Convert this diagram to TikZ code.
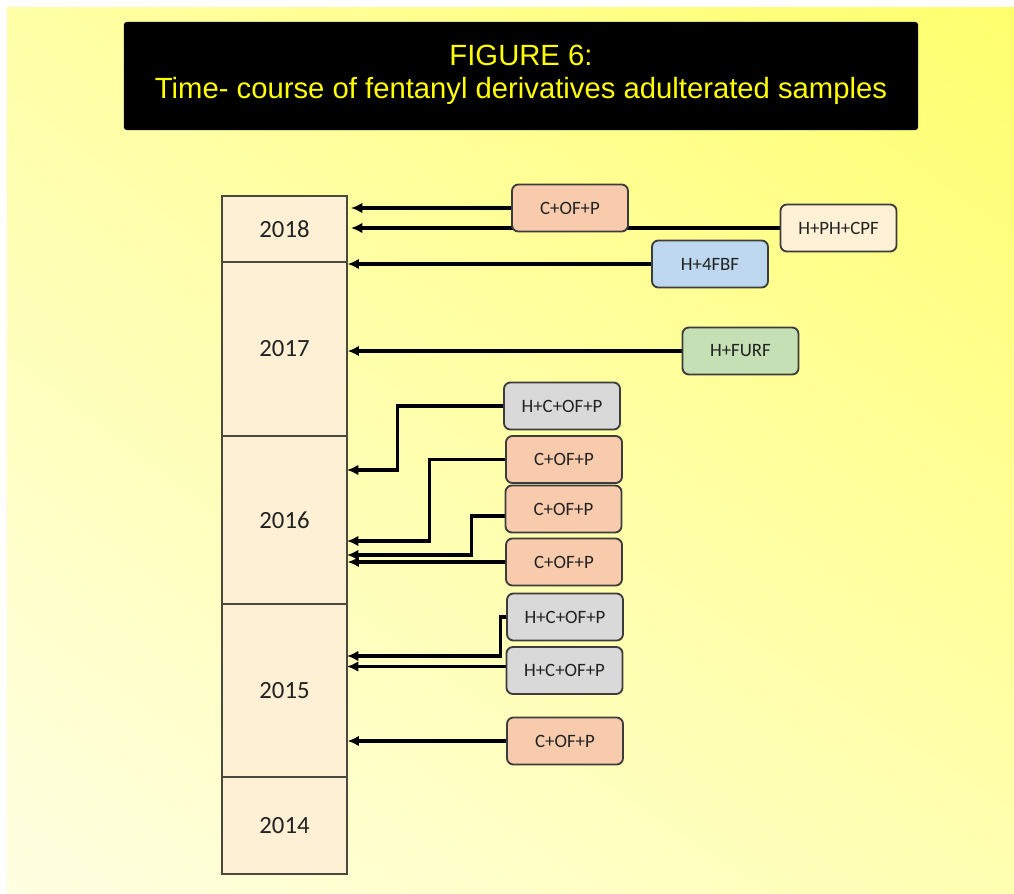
\documentclass[tikz,border=0pt]{standalone}
\usepackage{fontspec}
\setmainfont{Carlito}
\newfontfamily\arialfont{Liberation Sans}
\usetikzlibrary{arrows.meta,calc,shadings}
\definecolor{salmon}{HTML}{F8CBAD}
\definecolor{graybox}{HTML}{D9D9D9}
\definecolor{bluebox}{HTML}{BDD7EE}
\definecolor{greenbox}{HTML}{C5E0B4}
\definecolor{creambox}{HTML}{FEF1D6}
\definecolor{yearfill}{HTML}{FDF0D4}
\definecolor{yearline}{HTML}{4A4A3C}
\definecolor{boxline}{HTML}{3C3C3C}
\definecolor{txt}{HTML}{222222}
\definecolor{titleyellow}{HTML}{FFFF00}
\definecolor{bgUL}{HTML}{FFFFA6}
\definecolor{bgUR}{HTML}{FFFF6E}
\definecolor{bgLL}{HTML}{FFFFE2}
\definecolor{bgLR}{HTML}{FFFFB2}
\pgfdeclarelayer{bg}
\pgfdeclarelayer{connlayer}
\pgfsetlayers{bg,connlayer,main}
\begin{document}
\begin{tikzpicture}[x=0.025cm,y=-0.025cm,
  yearbox/.style={draw=yearline, line width=0.9pt, fill=yearfill, minimum width=3.125cm,
    inner sep=0pt, text=txt, font=\fontsize{17.6}{20}\selectfont},
  tag/.style={draw=boxline, line width=1.3pt, rounded corners=0.16cm, minimum width=2.9cm,
    minimum height=1.175cm, inner sep=0pt, text=txt, font=\fontsize{13.4}{15}\selectfont},
  arrowline/.style={draw=black, line width=2.2pt, -{Latex[length=8pt,width=7.5pt]}},
  titletext/.style={text=titleyellow, inner sep=0pt, font=\arialfont\fontsize{20.8}{24}\selectfont}]
\useasboundingbox (0,0) rectangle (1014,894);
\begin{pgfonlayer}{bg}
  \fill[white] (0,0) rectangle (1014,894);
  \shade[upper left=bgUL, upper right=bgUR, lower left=bgLL, lower right=bgLR] (7,7) rectangle (1014,894);
\end{pgfonlayer}

% title
\node[fill=black, rounded corners=2pt, minimum width=19.85cm, minimum height=2.7cm, inner sep=0pt] (title) at (521,76) {};
\node[titletext, anchor=base] (t1) at (521,65) {FIGURE 6:};
\node[titletext, anchor=base] (t2) at (521,98) {Time- course of fentanyl derivatives adulterated samples};

% year column
\node[yearbox, minimum height=1.65cm]  (y2018) at (284.5,229)   {2018};
\node[yearbox, minimum height=4.35cm]  (y2017) at (284.5,349)   {2017};
\node[yearbox, minimum height=4.2cm]   (y2016) at (284.5,520)   {2016};
\node[yearbox, minimum height=4.325cm] (y2015) at (284.5,690.5) {2015};
\node[yearbox, minimum height=2.425cm] (y2014) at (284.5,825.5) {2014};

% tags
\node[tag, fill=salmon]   (b1)  at (570,208)   {C+OF+P};
\node[tag, fill=creambox] (b2)  at (838.5,228) {H+PH+CPF};
\node[tag, fill=bluebox]  (b3)  at (710,264)   {H+4FBF};
\node[tag, fill=greenbox] (b4)  at (740.5,351) {H+FURF};
\node[tag, fill=graybox]  (b5)  at (562,406)   {H+C+OF+P};
\node[tag, fill=salmon]   (b6)  at (564,459.5) {C+OF+P};
\node[tag, fill=salmon]   (b7)  at (563.5,509) {C+OF+P};
\node[tag, fill=salmon]   (b8)  at (564,562)   {C+OF+P};
\node[tag, fill=graybox]  (b9)  at (565,617)   {H+C+OF+P};
\node[tag, fill=graybox]  (b10) at (564.5,670.5) {H+C+OF+P};
\node[tag, fill=salmon]   (b11) at (565,741)   {C+OF+P};

% arrow targets
\coordinate (t1a) at (351,208);
\coordinate (t2a) at (351,228);
\coordinate (t5) at (347,470);
\coordinate (t6) at (347,541);
\coordinate (t7) at (347,555);
\coordinate (t9) at (347,656);
\coordinate (t10) at (347,666.5);

\begin{pgfonlayer}{connlayer}
  \draw[arrowline] (b1.west) -- (t1a);
  \draw[arrowline] (b2.west) -- (t2a);
  \draw[arrowline] (b3.west) -- (b3.west -| y2017.east);
  \draw[arrowline] (b4.west) -- (b4.west -| y2017.east);
  \draw[arrowline] (b5.west) -- ++(-106,0) |- (t5);
  \draw[arrowline] (b6.west) -- ++(-76,0) |- (t6);
  \draw[arrowline] ($(b7.west)+(0,7)$) -- ++(-33,0) |- (t7);
  \draw[arrowline] (b8.west) -- (b8.west -| y2016.east);
  \draw[arrowline] (b9.west) -- ++(-6,0) |- (t9);
  \draw[arrowline] ($(b10.west)+(0,-4)$) -- (t10);
  \draw[arrowline] (b11.west) -- (b11.west -| y2015.east);
\end{pgfonlayer}
\end{tikzpicture}
\end{document}
